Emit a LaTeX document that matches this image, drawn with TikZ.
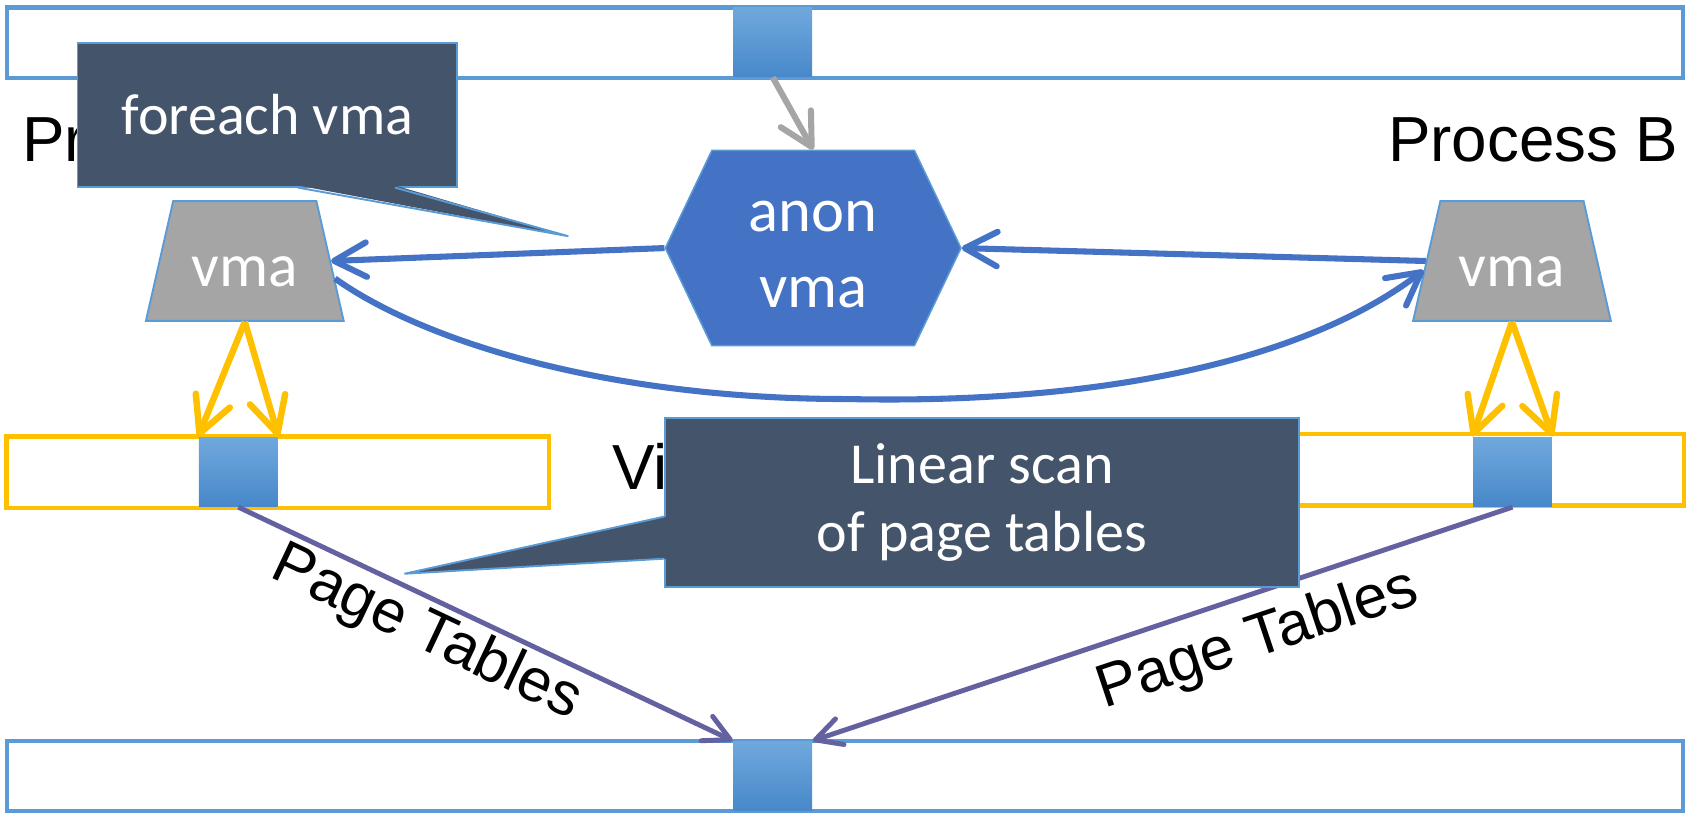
\documentclass[tikz,border=0pt]{standalone}
\usepackage{fontspec}
\setmainfont{Liberation Sans}
\newfontfamily\calibri{Carlito}
\usepackage{tikz}
\usetikzlibrary{arrows.meta, shapes.geometric, shapes.symbols}

\definecolor{memblue}{HTML}{5B9BD5}
\definecolor{anonblue}{HTML}{4472C4}
\definecolor{slate}{HTML}{44546A}
\definecolor{vmagray}{HTML}{A5A5A5}
\definecolor{ptyellow}{HTML}{FFC000}
\definecolor{ptpurple}{HTML}{6461A0}
\definecolor{pgtop}{HTML}{6FA8DC}
\definecolor{pgbot}{HTML}{4888CA}

\begin{document}
\begin{tikzpicture}[x=0.01cm, y=-0.01cm,
  membar/.style={draw=memblue, line width=1.1pt, fill=white, inner sep=0pt,
                 minimum width=15.53cm, minimum height=0.65cm},
  vbar/.style={draw=ptyellow, line width=1.2pt, fill=white, inner sep=0pt,
               minimum width=5.03cm, minimum height=0.66cm},
  pagebox/.style={inner sep=0pt, minimum width=0.73cm, minimum height=0.64cm,
                  top color=pgtop, bottom color=pgbot},
  vmabox/.style={trapezium, trapezium left angle=72, trapezium right angle=72,
                 trapezium stretches=true, minimum width=1.84cm, minimum height=1.11cm,
                 fill=vmagray, draw=memblue, line width=0.5pt, text=white,
                 font=\calibri\fontsize{16.2}{19}\selectfont,
                 text height=0.48cm, text depth=0pt},
  anonbox/.style={signal, signal to=west and east, signal pointer angle=129,
                  minimum width=2.74cm, minimum height=1.81cm, fill=anonblue,
                  draw=memblue, line width=0.4pt, text=white, align=center,
                  font=\calibri\fontsize{16.5}{20.2}\selectfont},
  calloutbox/.style={fill=slate, draw=memblue, line width=0.5pt, text=white,
                     align=center, font=\calibri\fontsize{15.3}{17.9}\selectfont},
  proclabel/.style={font=\fontsize{16.8}{20}\selectfont, inner sep=0pt},
  ptlabel/.style={font=\fontsize{16}{19}\selectfont, inner sep=0pt, sloped,
                  text=black},
  grayarr/.style={-{Straight Barb[length=3mm, width=3.2mm, round]},
                  line width=1.6pt, vmagray},
  anonarr/.style={-{Straight Barb[length=3mm, width=3.2mm, round]},
                  line width=1.6pt, anonblue},
  ptarr/.style={-{Straight Barb[length=3.3mm, width=3.4mm, round]},
                line width=1.7pt, ptyellow},
  pgarr/.style={-{Straight Barb[length=2.4mm, width=2.5mm, round]},
                line width=1.3pt, ptpurple}
]
  \useasboundingbox (0,0) rectangle (1568,756);

  % physical memory and the two virtual memories
  \node[membar] (physTop) at (783.5,39.5) {};
  \node[membar] (physBot) at (783.5,719.5) {};
  \node[vbar] (virtA) at (257.5,438) {};
  \node[vbar] (virtB) at (1310,435.5) {};

  % pages
  \node[pagebox] (pgTop)  at (716.5,39)    {};
  \node[pagebox] (pgA)    at (221,437.5)   {};
  \node[pagebox] (pgB)    at (1402.5,437.5) {};
  \node[pagebox] (pgPhys) at (716.5,719.5) {};

  \node[proclabel, anchor=base west] (procA) at (20,150)   {Pr};
  \node[proclabel, anchor=base east] (procB) at (1557,150) {Process B};
  \node[proclabel, anchor=base west] (virtLbl) at (567,454) {Vi};

  % vmas and the anon vma
  \node[vmabox]  (vmaA) at (227,242)  {vma};
  \node[vmabox]  (vmaB) at (1402,242) {vma};
  \node[anonbox] (anon) at (754,230)  {\rule{0pt}{0.40cm}anon\\vma};

  \draw[grayarr] (pgTop.south) -- (anon.north);
  \draw[anonarr] (anon.west) -- (vmaA.east);
  \draw[anonarr] (vmaB.west) -- (anon.east);
  \draw[anonarr] (vmaA.-11) .. controls (390,315) and (560,370) .. (786,370)
    .. controls (1020,375) and (1210,335) .. (vmaB.186);

  \foreach \vm/\pg in {vmaA/pgA, vmaB/pgB} {
    \draw[ptarr] (\vm.south) -- (\pg.north west);
    \draw[ptarr] (\vm.south) -- (\pg.north east);
  }

  \draw[pgarr] (pgA.south) -- node[ptlabel, pos=0.41, below=1pt] {Page Tables}
    (pgPhys.north west);
  \draw[pgarr] (pgB.south) -- node[ptlabel, pos=0.385, below=4pt] {Page Tables}
    (pgPhys.north east);

  % callouts
  \node[calloutbox, minimum width=3.52cm, minimum height=1.33cm] (forCall)
    at (248,106.5) {foreach vma};
  \coordinate (forTip) at (527,219);
  \fill[slate] ([xshift=2.05cm, yshift=0.02cm]forCall.south west) -- (forTip)
    -- ([xshift=2.95cm, yshift=0.02cm]forCall.south west) -- cycle;
  \draw[memblue, line width=0.5pt] ([xshift=2.05cm]forCall.south west) -- (forTip)
    -- ([xshift=2.95cm]forCall.south west);

  \node[calloutbox, minimum width=5.87cm, minimum height=1.56cm] (linCall)
    at (910.5,466) {Linear scan\\of page tables};
  \coordinate (linTip) at (375,532);
  \fill[slate] ([xshift=0.02cm, yshift=-0.13cm]linCall.west) -- (linTip)
    -- ([xshift=0.02cm, yshift=-0.52cm]linCall.west) -- cycle;
  \draw[memblue, line width=0.5pt] ([yshift=-0.13cm]linCall.west) -- (linTip)
    -- ([yshift=-0.52cm]linCall.west);
\end{tikzpicture}
\end{document}
